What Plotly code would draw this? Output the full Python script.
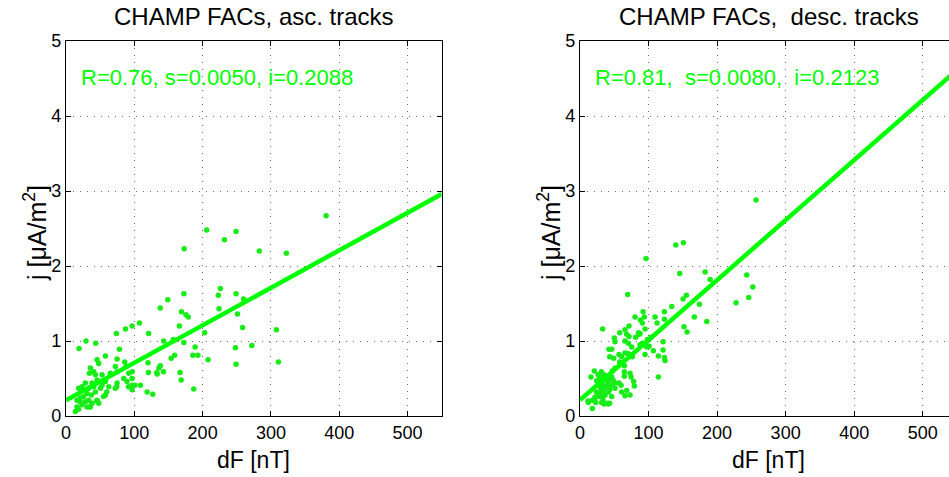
import plotly.graph_objects as go

# ---- ascending tracks: field jump dF [nT] vs current density j [uA/m^2]
asc_dF = [73.8, 87, 96.8, 107.5, 121, 29.3, 43.5, 19.1, 78.2, 57.7, 45.5, 47.9, 74.8, 86, 88,
          72.3, 35.7, 34.2, 40.6, 43, 52.8, 65, 74.8, 91.9, 96.8, 84.6, 96.8, 89.4, 74.8, 57.7,
          52.8, 45.5, 38.1, 28.3, 23.5, 18.6, 33.2, 40.6, 50.3, 62.6, 72.3, 96.8, 109, 118.8, 127,
          96.8, 43, 37.2, 30.8, 25.9, 21, 16.1, 33.2, 28.3, 38.1, 45.5, 57.7, 23.5, 30.8, 35.7,
          18.6, 13.7, 16.1, 47.9, 55, 120, 120.7, 142.7, 32.7, 45, 20.5, 59.7, 74.3, 91.4, 101,
          206, 249, 232, 173, 283, 226, 223, 249, 260, 172.5, 149, 138, 169, 175.5, 179, 251,
          166, 258.5, 203, 143, 157, 172.5, 189, 248, 272, 185.7, 193, 159, 154, 208, 249, 138,
          136, 133, 133.4, 167, 168.6, 187, 322.6, 380.8, 224, 308, 311]
asc_j = [1.10, 1.16, 1.20, 1.24, 1.10, 1.00, 0.97, 0.90, 0.89, 0.80, 0.75, 0.70, 0.76, 0.72, 0.66,
         0.66, 0.64, 0.57, 0.59, 0.55, 0.55, 0.57, 0.59, 0.57, 0.59, 0.50, 0.50, 0.46, 0.44, 0.46,
         0.41, 0.48, 0.44, 0.44, 0.39, 0.37, 0.37, 0.39, 0.37, 0.39, 0.37, 0.41, 0.41, 0.32, 0.29,
         0.35, 0.32, 0.28, 0.30, 0.26, 0.24, 0.21, 0.21, 0.19, 0.17, 0.21, 0.28, 0.15, 0.12, 0.12,
         0.09, 0.06, 0.12, 0.17, 0.26, 0.71, 0.58, 0.59, 0.12, 0.20, 0.19, 0.32, 0.39, 0.39, 0.41,
         2.48, 2.46, 2.35, 2.23, 2.20, 1.70, 1.61, 1.63, 1.56, 1.63, 1.55, 1.44, 1.39, 1.35, 1.32, 1.36,
         1.20, 1.18, 1.11, 1.00, 1.02, 0.98, 0.92, 0.91, 0.94, 0.81, 0.81, 0.81, 0.77, 0.75, 0.69, 0.67,
         0.64, 0.58, 0.56, 0.58, 0.48, 0.36, 2.17, 2.67, 1.43, 1.15, 0.72]

# ---- descending tracks
desc_dF = [139.7, 150.8, 96.3, 145.5, 182.5, 189.8, 69.6, 155.2, 150.4, 174.2, 133.8, 123.1, 123.1,
           109.5, 112.4, 166.9, 185, 151.8, 156.2, 80.3, 71.5, 65.7, 92, 93.9, 91, 94.9, 88.1, 85.2,
           33.1, 57.9, 50.1, 51.1, 68.1, 71.5, 65.7, 70.6, 81.3, 86.1, 103.6, 91, 95.9, 100.7, 94.9,
           121.2, 121.2, 107.1, 114.3, 123.1, 124.1, 42.3, 46.2, 43.3, 49.1, 56.9, 60.8, 65.7, 70.6,
           75.4, 76.4, 57.9, 64.7, 51.1, 47.2, 64.7, 64.7, 73, 74.5, 78.3, 79.3, 114.3, 20.9, 16,
           24.3, 27.7, 31.6, 35.5, 41.4, 46.2, 51.1, 56.9, 51.1, 59.9, 60.8, 68.1, 73, 65.7, 34.1,
           36.5, 41.4, 46.2, 31.6, 26.8, 12.2, 18, 21.9, 22.9, 31.6, 40.4, 18,
           28.7, 31.1, 33.6, 36, 38.4, 30.2, 40.9, 27.3, 32.1, 43.3, 23.8, 36, 28.2, 45.7, 35, 26.3,
           39.9, 48.2, 33.6, 21.4, 43.3, 11.7, 31.1, 35, 41.3,
           98.3, 97.3, 87.6, 87.6, 256.9, 243.3, 252.1, 246.2, 227.7]
desc_j = [2.28, 2.31, 2.10, 1.90, 1.92, 1.82, 1.62, 1.61, 1.56, 1.49, 1.46, 1.39, 1.29,
          1.32, 1.24, 1.32, 1.26, 1.19, 1.12, 1.32, 1.20, 1.15, 1.39, 1.32, 1.24, 1.16, 1.28, 1.11,
          1.16, 1.11, 1.04, 0.99, 1.09, 1.06, 1.00, 0.97, 1.05, 1.09, 1.05, 0.97, 0.97, 0.93, 0.82,
          0.99, 0.88, 0.87, 0.80, 0.78, 0.74, 0.89, 0.89, 0.79, 0.77, 0.82, 0.79, 0.84, 0.83,
          0.92, 0.79, 0.72, 0.67, 0.64, 0.60, 0.59, 0.53, 0.57, 0.52, 0.46, 0.40, 0.52, 0.60, 0.52,
          0.47, 0.43, 0.57, 0.53, 0.48, 0.52, 0.44, 0.44, 0.37, 0.41, 0.32, 0.34, 0.28, 0.27, 0.35,
          0.28, 0.32, 0.26, 0.26, 0.30, 0.18, 0.21, 0.25, 0.18, 0.18, 0.17, 0.10,
          0.50, 0.46, 0.41, 0.48, 0.39, 0.37, 0.44, 0.41, 0.32, 0.35, 0.32, 0.28, 0.26, 0.41, 0.55, 0.55,
          0.52, 0.48, 0.21, 0.21, 0.17, 0.20, 0.59, 0.16, 0.16,
          1.02, 0.92, 0.95, 1.10, 2.88, 1.88, 1.72, 1.58, 1.51]

# ---- regression results (correlation, slope, intercept)
fit_asc = dict(R=0.76, s=0.0050, i=0.2088)
fit_desc = dict(R=0.81, s=0.0080, i=0.2123)
fit_x = [0, 550]

titles = ["CHAMP FACs, asc. tracks", "CHAMP FACs,\u00a0 desc. tracks"]
fit_labels = ["R=0.76, s=0.0050, i=0.2088", "R=0.81,\u00a0 s=0.0080,\u00a0 i=0.2123"]
x_ticks = [0, 100, 200, 300, 400, 500]
y_ticks = [0, 1, 2, 3, 4, 5]

GREEN = "#00ff00"
DOT_GREEN = "#18ec18"
FONT = "Liberation Sans, Arial, Helvetica, sans-serif"

W, H = 949, 477
# plot boxes in pixels (left, right, top, bottom); the right box runs past the page edge
box_l = (66, 441.7, 41, 416)
box_r = (580, 957, 41, 416)
x_range_r = [0, 550 * (W - box_r[0]) / (box_r[1] - box_r[0])]

fig = go.Figure()

for k, (dF, j, fit) in enumerate([(asc_dF, asc_j, fit_asc), (desc_dF, desc_j, fit_desc)]):
    xa = "x" if k == 0 else "x2"
    ya = "y" if k == 0 else "y2"
    fig.add_trace(go.Scatter(x=dF, y=j, mode="markers", xaxis=xa, yaxis=ya,
                             marker=dict(color=DOT_GREEN, size=5.5, line=dict(width=0)),
                             showlegend=False))
    fig.add_trace(go.Scatter(x=fit_x, y=[fit["i"] + fit["s"] * v for v in fit_x],
                             mode="lines", xaxis=xa, yaxis=ya,
                             line=dict(color=GREEN, width=4.5), showlegend=False))


def dom_x(b):
    return [b[0] / W, min(b[1] / W, 1.0)]


def dom_y(b):
    return [(H - b[3]) / H, (H - b[2]) / H]


axis_common = dict(
    showline=True, linecolor="black", linewidth=1.3,
    ticks="inside", ticklen=5, tickwidth=1, tickcolor="black",
    showgrid=True, gridcolor="rgba(60,60,60,0.75)", gridwidth=1, griddash="1px,6px",
    zeroline=False, tickfont=dict(family=FONT, size=18, color="black"),
    automargin=False, fixedrange=True,
)

fig.update_layout(
    width=W, height=H,
    margin=dict(l=0, r=0, t=0, b=0),
    paper_bgcolor="white", plot_bgcolor="white",
    font=dict(family=FONT, color="black"),
    xaxis=dict(domain=dom_x(box_l), range=[0, 550], tickvals=x_ticks, anchor="y",
               mirror="ticks", **axis_common),
    yaxis=dict(domain=dom_y(box_l), range=[0, 5], tickvals=y_ticks, anchor="x",
               mirror="ticks", **axis_common),
    xaxis2=dict(domain=dom_x(box_r), range=x_range_r, tickvals=x_ticks, anchor="y2",
                mirror="ticks", **axis_common),
    yaxis2=dict(domain=dom_y(box_r), range=[0, 5], tickvals=y_ticks, anchor="x2",
                mirror=False, **axis_common),
)

annotations = []
for k, b in enumerate([box_l, box_r]):
    cx = (b[0] + b[1]) / 2
    # panel title
    annotations.append(dict(text=titles[k], x=cx / W, y=(H - 16) / H, xref="paper", yref="paper",
                            showarrow=False, xanchor="center", yanchor="middle",
                            font=dict(family=FONT, size=24, color="black")))
    # fit statistics
    annotations.append(dict(text=fit_labels[k], x=(b[0] + 13) / W, y=(H - 78) / H,
                            xref="paper", yref="paper", showarrow=False,
                            xanchor="left", yanchor="middle",
                            font=dict(family=FONT, size=22, color=GREEN)))
    # axis titles
    annotations.append(dict(text="dF [nT]", x=cx / W, y=(H - 460) / H, xref="paper", yref="paper",
                            showarrow=False, xanchor="center", yanchor="middle",
                            font=dict(family=FONT, size=23, color="black")))
    annotations.append(dict(text="j [\u03bcA/m<sup>2</sup>]", x=(b[0] - 31) / W,
                            y=(H - 233) / H, xref="paper", yref="paper", showarrow=False,
                            textangle=-90, xanchor="center", yanchor="middle",
                            font=dict(family=FONT, size=25, color="black")))

fig.update_layout(annotations=annotations)

fig.write_html("out.html", config={"displayModeBar": False})
